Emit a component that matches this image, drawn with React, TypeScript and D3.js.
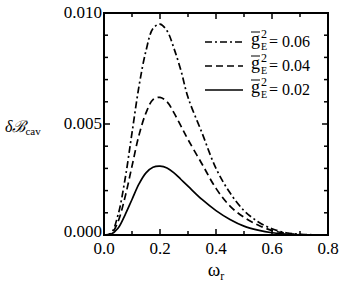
import * as d3 from "d3";
import React, { useEffect, useRef } from "react";

// valores
const omega = [0, 0.025, 0.05, 0.075, 0.1, 0.125, 0.15, 0.175, 0.2, 0.225, 0.25, 0.275, 0.3, 0.35, 0.4, 0.45, 0.5, 0.55, 0.6, 0.65, 0.7, 0.8];
const g002 = [0, 0.00003, 0.0003, 0.0009, 0.0016, 0.0023, 0.0028, 0.00305, 0.0031, 0.00302, 0.0028, 0.0025, 0.0022, 0.0016, 0.0011, 0.0007, 0.0004, 0.00022, 0.0001, 0.00004, 0.00001, 0];
const g004 = [0, 0.00005, 0.0006, 0.0017, 0.0031, 0.0045, 0.0055, 0.0061, 0.0062, 0.006, 0.0055, 0.0049, 0.0043, 0.0032, 0.0021, 0.0013, 0.0008, 0.00045, 0.0002, 0.00008, 0.00002, 0];
const g006 = [0, 0.00008, 0.0009, 0.0025, 0.0046, 0.0067, 0.0083, 0.0093, 0.0095, 0.0092, 0.0084, 0.0074, 0.0062, 0.0046, 0.003, 0.0019, 0.0011, 0.0006, 0.00028, 0.0001, 0.00003, 0];
const legendLabels = ["0.06", "0.04", "0.02"];
const xTicks = [0, 0.2, 0.4, 0.6, 0.8];
const yTicks = [0, 0.005, 0.01];

const W = 343;
const H = 291;
const margin = { top: 13, right: 15, bottom: 56, left: 104 };
const font = "Liberation Serif, serif";

function Grafica() {
  const ref = useRef<SVGSVGElement>(null);

  useEffect(() => {
    const svg = d3.select(ref.current);
    svg.selectAll("*").remove();

    const x = d3.scaleLinear().domain([0, 0.8]).range([margin.left, W - margin.right]);
    const y = d3.scaleLinear().domain([0, 0.01]).range([H - margin.bottom, margin.top]);
    const [x0, x1] = x.range();
    const [y0, y1] = y.range();

    const series = [
      { vals: g006, dash: "7,3,2,3" },
      { vals: g004, dash: "7,4" },
      { vals: g002, dash: null },
    ];

    const line = d3
      .line<number>()
      .x((_, i) => x(omega[i]))
      .y((d) => y(d))
      .curve(d3.curveCatmullRom.alpha(0.5));

    series.forEach((s) => {
      svg
        .append("path")
        .attr("d", line(s.vals))
        .attr("fill", "none")
        .attr("stroke", "#000")
        .attr("stroke-width", 1.7)
        .attr("stroke-dasharray", s.dash);
    });

    // marco
    svg
      .append("rect")
      .attr("x", x0)
      .attr("y", y1)
      .attr("width", x1 - x0)
      .attr("height", y0 - y1)
      .attr("fill", "none")
      .attr("stroke", "#000")
      .attr("stroke-width", 2);

    // ticks hacia adentro en los cuatro lados
    const xt = d3.range(0, 0.801, 0.1);
    xt.forEach((t, i) => {
      const len = i % 2 === 0 ? 6 : 4;
      [
        [y0, y0 - len],
        [y1, y1 + len],
      ].forEach(([a, b]) => {
        svg.append("line").attr("x1", x(t)).attr("x2", x(t)).attr("y1", a).attr("y2", b).attr("stroke", "#000").attr("stroke-width", 1.5);
      });
    });
    const yt = d3.range(0, 0.01001, 0.001);
    yt.forEach((t, i) => {
      const len = i % 5 === 0 ? 6 : 4;
      [
        [x0, x0 + len],
        [x1, x1 - len],
      ].forEach(([a, b]) => {
        svg.append("line").attr("y1", y(t)).attr("y2", y(t)).attr("x1", a).attr("x2", b).attr("stroke", "#000").attr("stroke-width", 1.5);
      });
    });

    // etiquetas
    xTicks.forEach((t) => {
      svg
        .append("text")
        .attr("x", x(t))
        .attr("y", y0 + 19)
        .attr("text-anchor", "middle")
        .attr("font-family", font)
        .attr("font-size", 17)
        .text(d3.format(".1f")(t));
    });
    yTicks.forEach((t) => {
      svg
        .append("text")
        .attr("x", x0 - 2)
        .attr("y", y(t) + (t === 0 ? 2 : 5))
        .attr("text-anchor", "end")
        .attr("font-family", font)
        .attr("font-size", 17)
        .text(d3.format(".3f")(t));
    });

    // titulos de ejes
    const xt2 = svg
      .append("text")
      .attr("x", x(0.4))
      .attr("y", 276)
      .attr("text-anchor", "middle")
      .attr("font-family", font)
      .attr("font-size", 19);
    xt2.append("tspan").text("ω");
    xt2.append("tspan").attr("font-size", 12).attr("dy", 4).text("r");

    const yt2 = svg.append("text").attr("x", 5).attr("y", 132).attr("font-family", font).attr("font-size", 16);
    yt2.append("tspan").attr("font-style", "italic").text("δ");
    yt2.append("tspan").attr("font-style", "italic").text("ℬ");
    yt2.append("tspan").attr("font-size", 11).attr("dy", 3).text("cav");

    // leyenda
    series.forEach((s, i) => {
      const ly = 42 + i * 24;
      svg
        .append("line")
        .attr("x1", 205)
        .attr("x2", 243)
        .attr("y1", ly)
        .attr("y2", ly)
        .attr("stroke", "#000")
        .attr("stroke-width", 1.7)
        .attr("stroke-dasharray", s.dash);
      const g = svg.append("g").attr("font-family", font).attr("font-size", 16);
      g.append("text").attr("x", 251).attr("y", ly + 3).attr("font-size", 18).text("g");
      g.append("line").attr("x1", 251).attr("x2", 260).attr("y1", ly - 10).attr("y2", ly - 10).attr("stroke", "#000").attr("stroke-width", 1);
      g.append("text").attr("x", 261).attr("y", ly - 4).attr("font-size", 12).text("2");
      g.append("text").attr("x", 261).attr("y", ly + 8).attr("font-size", 10).text("E");
      g.append("text").attr("x", 269).attr("y", ly + 5).text("= " + legendLabels[i]);
    });
  }, []);

  return <svg ref={ref} width={W} height={H} style={{ position: "absolute", left: 0, top: 0 }} />;
}

export default function App() {
  return <Grafica />;
}
